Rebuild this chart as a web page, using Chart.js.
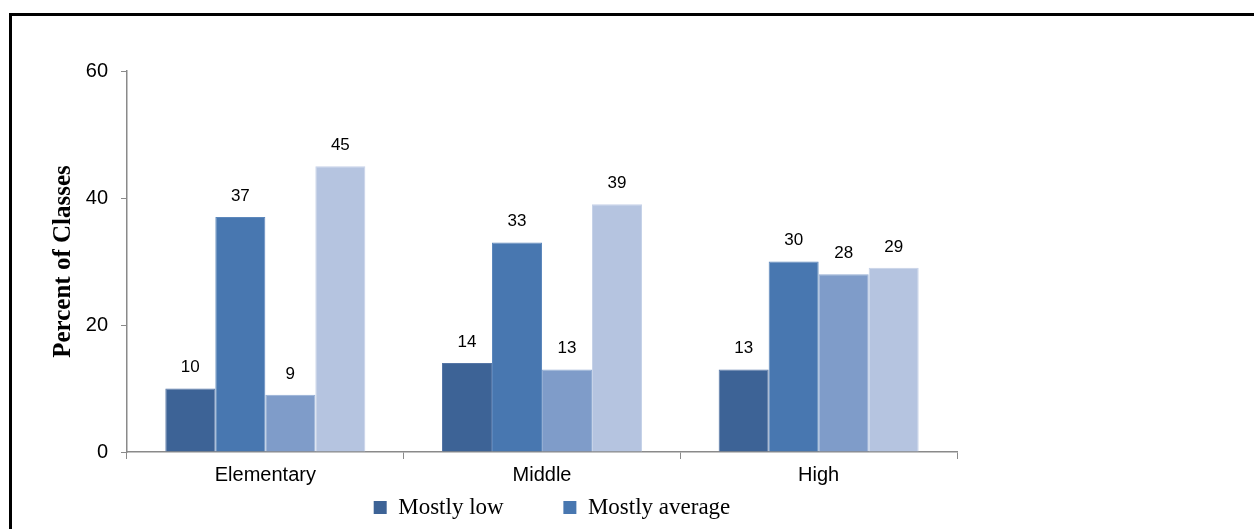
<!DOCTYPE html>
<html><head><meta charset="utf-8">
<script src="https://cdn.jsdelivr.net/npm/chart.js@4"></script>
<style>html,body{margin:0;padding:0;background:#fff;overflow:hidden}canvas{display:block}</style>
</head><body>
<canvas id="c" width="1254" height="529"></canvas>
<script>
// ---- data ----
const categories = ['Elementary', 'Middle', 'High'];
const seriesNames = ['Mostly low', 'Mostly average', 'Mostly high', 'Mixed'];
const mostlyLow = [10, 14, 13];
const mostlyAverage = [37, 33, 30];
const mostlyHigh = [9, 13, 28];
const mixed = [45, 39, 29];
const yTicks = [0, 20, 40, 60];
const legendShown = ['Mostly low', 'Mostly average'];

const colors = ['#3D6396', '#4877B0', '#7F9CC9', '#B5C4E0'];
const edgeColors = ['#5676A6', '#5D88BC', '#93ADD3', '#C6D2E8'];
const seriesValues = [mostlyLow, mostlyAverage, mostlyHigh, mixed];
const AXIS = '#8a8a8a';

const frame = {
  id: 'frame',
  beforeDraw(chart) {
    const ctx = chart.ctx;
    ctx.save();
    ctx.fillStyle = '#fff';
    ctx.fillRect(0, 0, chart.width, chart.height);
    ctx.fillStyle = '#000';
    ctx.fillRect(9, 13, 3, chart.height);
    ctx.fillRect(9, 13, chart.width, 3);
    ctx.restore();
  }
};

const valueLabels = {
  id: 'valueLabels',
  afterDatasetsDraw(chart) {
    const ctx = chart.ctx;
    ctx.save();
    ctx.font = '17px "Liberation Sans", Arial, sans-serif';
    ctx.fillStyle = '#000';
    ctx.textAlign = 'center';
    ctx.textBaseline = 'middle';
    chart.data.datasets.forEach((ds, i) => {
      chart.getDatasetMeta(i).data.forEach((bar, j) => {
        ctx.fillText(String(ds.data[j]), bar.x, bar.y - 21);
      });
    });
    ctx.restore();
  }
};

new Chart(document.getElementById('c'), {
  type: 'bar',
  data: {
    labels: categories,
    datasets: seriesNames.map((name, i) => ({
      label: name,
      data: seriesValues[i],
      backgroundColor: colors[i],
      borderColor: edgeColors[i],
      borderWidth: 1,
      categoryPercentage: 0.723,
      barPercentage: 1
    }))
  },
  options: {
    responsive: false,
    animation: false,
    devicePixelRatio: 1,
    layout: { padding: { top: 71, left: 0, right: 150, bottom: 0 } },
    plugins: {
      tooltip: { enabled: false },
      legend: {
        position: 'bottom',
        labels: {
          generateLabels: (chart) => {
            const items = Chart.defaults.plugins.legend.labels.generateLabels(chart)
              .filter(it => legendShown.includes(it.text));
            items.forEach(it => {
              it.lineWidth = 0;
              if (it.text === legendShown[0]) it.text = it.text + '         ';
            });
            return items;
          },
          boxWidth: 13,
          boxHeight: 13,
          padding: 8,
          color: '#000',
          font: { family: '"Liberation Serif", "Times New Roman", serif', size: 23 }
        }
      }
    },
    scales: {
      x: {
        grid: { display: true, drawOnChartArea: false, offset: true, color: AXIS, tickLength: 7 },
        border: { display: true, color: AXIS, width: 1.5 },
        ticks: { color: '#000', padding: 4, font: { family: '"Liberation Sans", Arial, sans-serif', size: 20 } },
        afterFit: (s) => { s.height = 36; }
      },
      y: {
        min: 0, max: 60,
        afterBuildTicks: (s) => { s.ticks = yTicks.map(v => ({ value: v })); },
        grid: { display: true, drawOnChartArea: false, color: AXIS, tickLength: 6 },
        border: { display: true, color: AXIS, width: 1.5 },
        ticks: { color: '#000', padding: 13, font: { family: '"Liberation Sans", Arial, sans-serif', size: 20 } },
        title: {
          display: true,
          text: 'Percent of Classes',
          color: '#000',
          padding: { top: 49, bottom: 0 },
          font: { family: '"Liberation Serif", "Times New Roman", serif', size: 25, weight: 'bold' }
        },
        afterFit: (s) => { s.width = 127; }
      },
      spacer: {
        position: 'right',
        display: true,
        grid: { display: false },
        border: { display: false },
        ticks: { display: false },
        afterFit: (s) => { s.width = 147; }
      }
    }
  },
  plugins: [frame, valueLabels]
});
</script>
</body></html>
